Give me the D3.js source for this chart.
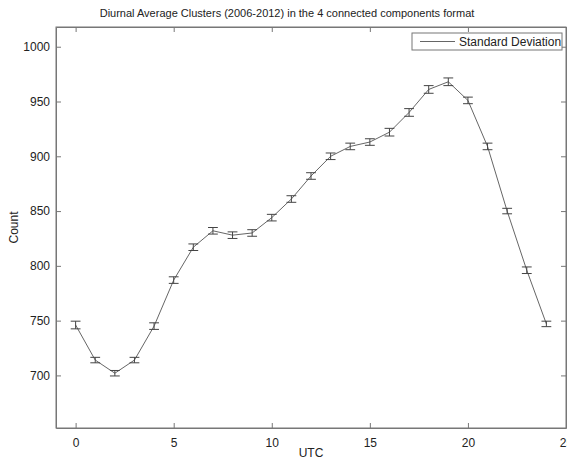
<!DOCTYPE html>
<html>
<head>
<script src="https://cdn.jsdelivr.net/npm/d3@7"></script>
<style>
  body { margin: 0; background: #fff; }
  text { font-family: "Liberation Sans", Arial, sans-serif; fill: #222; }
</style>
</head>
<body>
<div id="chart"></div>
<script>
// data
var hours = [0,1,2,3,4,5,6,7,8,9,10,11,12,13,14,15,16,17,18,19,20,21,22,23,24];
var counts = [746,714,702,714,745,787,817,832,828,830,844,861,882,900,909,913,922,940,961,968,951,909,850,796,747];
var stdDev = [3.5,2.5,2.5,2.5,3,3,3,3,3,3,3,3,3,3,3,3,3.5,3.5,3.5,3.5,3,3,2.5,3,2.5];
var xTicks = [0,5,10,15,20,25];
var yTicks = [700,750,800,850,900,950,1000];

var w = 567, h = 460;
var padL = 56, padR = 566, padT = 27, padB = 428;

var svg = d3.select("#chart").append("svg")
  .attr("width", w).attr("height", h);

var xScale = d3.scaleLinear().domain([-1, 25]).range([padL, padR]);
var yScale = d3.scaleLinear().domain([652, 1018]).range([padB, padT]);

var axisColor = "#777";

// box
svg.append("rect")
  .attr("x", padL).attr("y", padT)
  .attr("width", padR - padL).attr("height", padB - padT)
  .attr("fill", "none").attr("stroke", axisColor).attr("stroke-width", 1);

// axes with inward ticks (matlab style)
var xAxis = d3.axisBottom(xScale).tickValues(xTicks).tickSizeInner(-5).tickSizeOuter(0).tickPadding(10).tickFormat(d3.format("d"));
var gx = svg.append("g").attr("transform", "translate(0," + padB + ")").call(xAxis);
var xTop = d3.axisTop(xScale).tickValues(xTicks).tickSizeInner(-5).tickSizeOuter(0).tickFormat("");
var gxt = svg.append("g").attr("transform", "translate(0," + padT + ")").call(xTop);

var yAxis = d3.axisLeft(yScale).tickValues(yTicks).tickSizeInner(-5).tickSizeOuter(0).tickPadding(6).tickFormat(d3.format("d"));
var gy = svg.append("g").attr("transform", "translate(" + padL + ",0)").call(yAxis);
var yRight = d3.axisRight(yScale).tickValues(yTicks).tickSizeInner(-5).tickSizeOuter(0).tickFormat("");
var gyr = svg.append("g").attr("transform", "translate(" + padR + ",0)").call(yRight);

[gx, gxt, gy, gyr].forEach(function(g) {
  g.select(".domain").attr("stroke", axisColor);
  g.selectAll(".tick line").attr("stroke", axisColor);
  g.selectAll("text").style("font-size", "12px").attr("fill", "#222")
    .style("font-family", "'Liberation Sans', Arial, sans-serif");
});

// line
var line = d3.line()
  .x(function(d, i) { return xScale(hours[i]); })
  .y(function(d) { return yScale(d); });

svg.append("path")
  .datum(counts)
  .attr("fill", "none")
  .attr("stroke", "#666")
  .attr("stroke-width", 1)
  .attr("d", line);

// error bars
var eb = svg.append("g").attr("stroke", "#444").attr("stroke-width", 1);
counts.forEach(function(c, i) {
  var x = xScale(hours[i]);
  var cw = xScale(hours[i] + 0.25) - x;
  var y1 = yScale(c - stdDev[i]), y2 = yScale(c + stdDev[i]);
  eb.append("line").attr("x1", x).attr("x2", x).attr("y1", y1).attr("y2", y2);
  eb.append("line").attr("x1", x - cw).attr("x2", x + cw).attr("y1", y1).attr("y2", y1);
  eb.append("line").attr("x1", x - cw).attr("x2", x + cw).attr("y1", y2).attr("y2", y2);
});

// title and labels
svg.append("text")
  .attr("x", 287).attr("y", 17)
  .attr("text-anchor", "middle")
  .style("font-size", "11px")
  .text("Diurnal Average Clusters (2006-2012) in the 4 connected components format");

svg.append("text")
  .attr("x", (padL + padR) / 2).attr("y", 457)
  .attr("text-anchor", "middle")
  .style("font-size", "12px")
  .text("UTC");

svg.append("text")
  .attr("transform", "translate(18," + ((padT + padB) / 2) + ") rotate(-90)")
  .attr("text-anchor", "middle")
  .style("font-size", "12px")
  .text("Count");

// legend
var lg = svg.append("g");
lg.append("rect")
  .attr("x", 412).attr("y", 33).attr("width", 150).attr("height", 17)
  .attr("fill", "#fff").attr("stroke", axisColor);
lg.append("line")
  .attr("x1", 420).attr("x2", 455).attr("y1", 41.5).attr("y2", 41.5)
  .attr("stroke", "#666");
lg.append("text")
  .attr("x", 459).attr("y", 46)
  .style("font-size", "12px")
  .text("Standard Deviation");
</script>
</body>
</html>
